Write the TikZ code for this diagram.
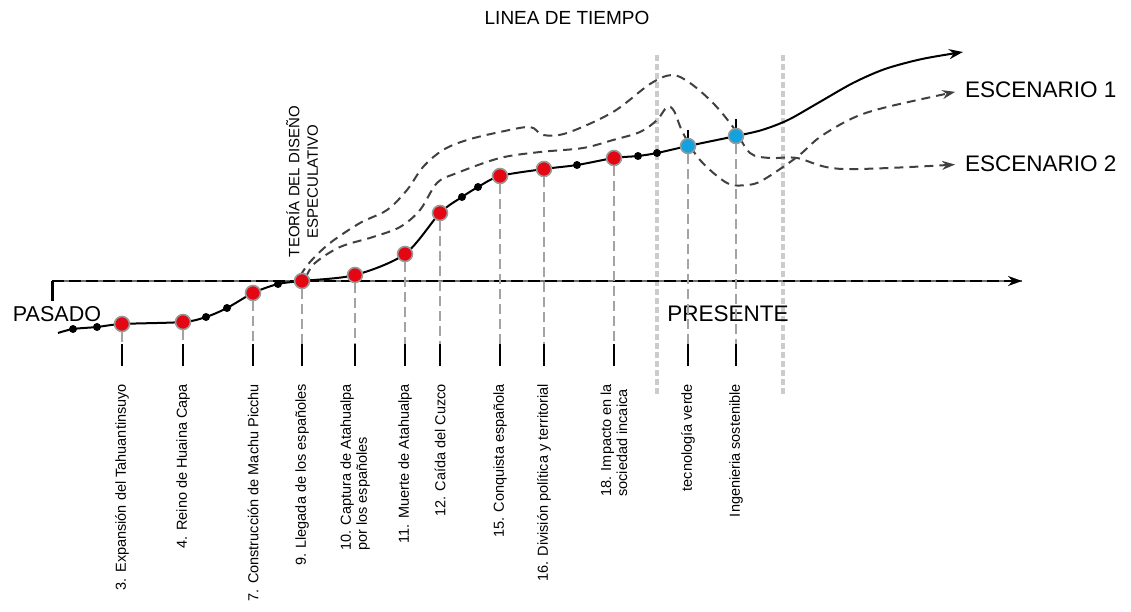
\documentclass[tikz,border=0pt]{standalone}
\usepackage{fontspec}
\setmainfont{Liberation Sans}
\usepackage{xcolor}
\usetikzlibrary{arrows.meta}
\definecolor{eventred}{HTML}{E30613}
\definecolor{eventblue}{HTML}{12A2E0}
\definecolor{ringgray}{HTML}{9A9A9A}
\definecolor{scendash}{HTML}{404040}
\definecolor{guidegray}{HTML}{CCCCCC}
\definecolor{dropgray}{HTML}{A3A3A3}
\definecolor{axisgray}{HTML}{6E6E6E}

\begin{document}
\begin{tikzpicture}[
  x=1pt, y=-1pt,
  line width=2pt,
  redevent/.style={
    circle,
    fill=eventred,
    draw=ringgray,
    line width=1.6pt,
    minimum size=15pt,
    inner sep=0pt
  },
  blueevent/.style={redevent, fill=eventblue},
  smalldot/.style={circle, fill=black, minimum size=8pt, inner sep=0pt},
  droplink/.style={draw=dropgray, dash pattern=on 10pt off 5pt},
  guideline/.style={draw=guidegray, line width=4pt, dash pattern=on 6pt off 3pt},
  scenario/.style={
    draw=scendash,
    dash pattern=on 9pt off 6pt,
    -{Stealth[length=13pt,width=9pt]},
    shorten >=9pt
  },
  eventlabel/.style={
    rotate=90,
    anchor=east,
    align=left,
    inner sep=1pt,
    font=\fontsize{14.5}{16}\selectfont
  },
  bigtext/.style={font=\fontsize{22.5}{26}\selectfont, inner sep=0pt}
]
  \useasboundingbox (0,0) rectangle (1131,612);

  \node[font=\fontsize{19}{22}\selectfont] (title) at (567,18) {LINEA DE TIEMPO};

  \coordinate (tickrow) at (0,344);
  \coordinate (tickend) at (0,366);
  \coordinate (labelrow) at (0,382);

  \draw[guideline] (657,55) -- (657,395);
  \draw[guideline] (783,55) -- (783,395);

  \coordinate (axstart) at (52,281);
  \coordinate (axend) at (1022,281);
  \coordinate (axfoot) at (52,301);
  \draw[axisgray] (axstart) -- (axend);
  \draw[
    dash pattern=on 12pt off 5pt,
    -{Stealth[length=14pt,width=10pt]}
  ] (axstart) -- (axend);
  \draw[line width=3pt] (axstart) -- (axfoot);

  \node[bigtext, font=\fontsize{21.5}{26}\selectfont] (pasado) at (57,314) {PASADO};
  \node[bigtext] (presente) at (728,314) {PRESENTE};
  \node[bigtext, anchor=west] (esc1) at (964,90) {ESCENARIO 1};
  \node[bigtext, anchor=west] (esc2) at (964,164) {ESCENARIO 2};

  \foreach \n/\x/\y in {exp/122/324, reino/183/322, machu/253/293, llegada/302/281,
    captura/355/275, muerte/405/254, caida/440/213, conquista/500/176,
    division/544/169, impacto/614/158, verde/688/146, ingenieria/736/136}
    \coordinate (p\n) at (\x,\y);
  \foreach \n/\x/\y in {1/73/329, 2/97/327, 3/206/317, 4/227/308, 5/278/284,
    6/462/197, 7/478/187, 8/577/165, 9/638/156, 10/657/153}
    \coordinate (k\n) at (\x,\y);
  \coordinate (start) at (58,333);
  \coordinate (fin) at (963,52);

  \draw[scenario] plot[smooth, tension=0.55] coordinates {
    (300,276) (310,262) (330,243) (360,223) (387,210) (407,190) (423,167)
    (443,150) (467,140) (500,132) (530,127) (543,135) (567,133) (613,112)
    (650,84) (672,75) (690,83) (713,103) (733,127) (750,153) (770,158)
    (797,158) (843,169) (esc2.west)};
  \draw[scenario] plot[smooth, tension=0.55] coordinates {
    (306,277) (315,263) (340,247) (373,237) (400,227) (420,210) (437,183)
    (457,173) (500,158) (540,152) (583,148) (613,140) (640,132) (657,120)
    (667,107) (674,111) (683,133) (700,160) (727,183) (747,185) (763,180)
    (797,157) (820,137) (853,118) (887,107) (esc1.west)};

  \draw[-{Stealth[length=14pt,width=10pt]}] plot[smooth, tension=0.5] coordinates {
    (start) (k1) (k2) (pexp) (preino) (k3) (k4) (pmachu) (k5) (pllegada)
    (pcaptura) (pmuerte) (pcaida) (k6) (k7) (pconquista) (pdivision) (k8)
    (pimpacto) (k9) (k10) (pverde) (pingenieria) (762,130) (788,120) (818,103)
    (853,83) (885,69) (922,59) (fin)};

  \foreach \k in {1,...,10}
    \node[smalldot] (dot\k) at (k\k) {};

  \draw ([yshift=16pt]pverde) -- ([yshift=-10pt]pverde);
  \draw ([yshift=17pt]pingenieria) -- ([yshift=-10pt]pingenieria);

  \foreach \n/\s/\txt in {
    exp/redevent/{3. Expansión del Tahuantinsuyo},
    reino/redevent/{4. Reino de Huaina Capa},
    machu/redevent/{7. Construcción de Machu Picchu},
    llegada/redevent/{9. Llegada de los españoles},
    captura/redevent/{10. Captura de Atahualpa\\por los españoles},
    muerte/redevent/{11. Muerte de Atahualpa},
    caida/redevent/{12. Caída del Cuzco},
    conquista/redevent/{15. Conquista española},
    division/redevent/{16. División política y territorial},
    impacto/redevent/{18. Impacto en la\\sociedad incaica},
    verde/blueevent/{tecnología verde},
    ingenieria/blueevent/{Ingenieria sostenible}} {
    \node[\s] (\n) at (p\n) {};
    \coordinate (t\n) at (p\n |- tickrow);
    \draw[droplink] (\n) -- (t\n);
    \draw (t\n) -- (p\n |- tickend);
    \node[eventlabel] (l\n) at (p\n |- labelrow) {\txt};
  }

  \node[
    rotate=90,
    anchor=west,
    align=center,
    inner sep=1pt,
    font=\fontsize{15}{18.5}\selectfont
  ] (teoria) at (302,259) {TEORÍA DEL DISEÑO\\ESPECULATIVO};
\end{tikzpicture}
\end{document}
